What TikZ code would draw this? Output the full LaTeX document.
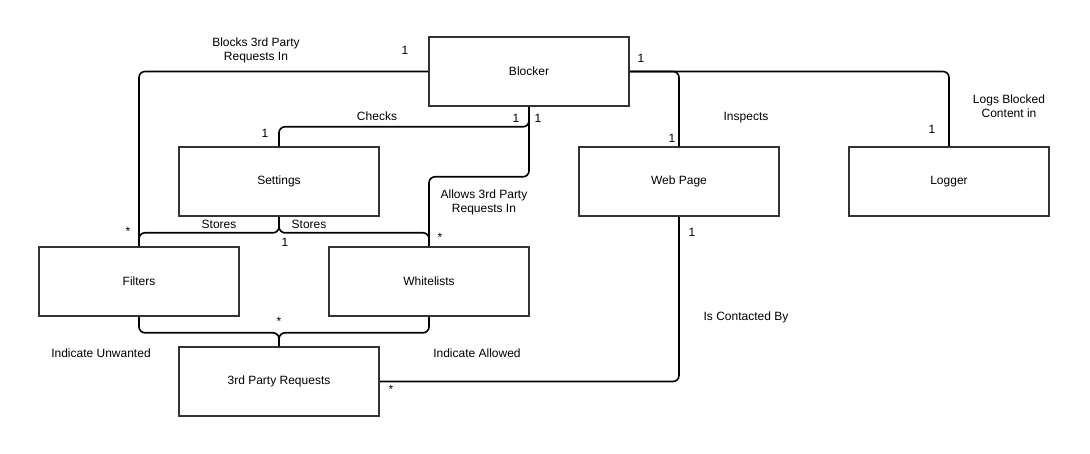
\documentclass[tikz,border=0pt]{standalone}
\usepackage{fontspec}
\setmainfont{Liberation Sans}
\usetikzlibrary{positioning}

\tikzset{
  box/.style={draw=black!80, line width=1.6pt, minimum width=200pt, minimum height=69pt, inner sep=0pt},
  link/.style={draw, line width=1.6pt, rounded corners=6pt},
  lbl/.style={inner sep=1pt, align=center}
}

\begin{document}
\begin{tikzpicture}[x=1pt, y=-1pt, font=\fontsize{12}{14}\selectfont]
\useasboundingbox (0,0) rectangle (1090,454);

% --- Boxes ---
\node[box] (blocker) at (529,71.5) {Blocker};
\node[box] (settings) at (279,181.5) {Settings};
\node[box] (webpage) at (679,181.5) {Web Page};
\node[box] (logger) at (949,181.5) {Logger};
\node[box] (filters) at (139,281.5) {Filters};
\node[box] (whitelists) at (429,281.5) {Whitelists};
\node[box] (requests) at (279,381.5) {3rd Party Requests};

% --- Connectors ---
% Blocker to the left and down
\draw[link] (blocker.west) -| (filters.north);
\draw[link] (blocker.south) -- ++(0,20) -| (settings.north);
\draw[link] (blocker.south) -- ++(0,70) -| (whitelists.north);

% Settings stores both lists
\draw[link] (settings.south) -- ++(0,16) -| (filters.north);
\draw[link] (settings.south) -- ++(0,16) -| (whitelists.north);

% Lists indicate requests
\draw[link] (filters.south) -- ++(0,16) -| (requests.north);
\draw[link] (whitelists.south) -- ++(0,16) -| (requests.north);

% Blocker to the right
\draw[link] (blocker.east) -| (webpage.north);
\draw[link] (blocker.east) -| (logger.north);
\draw[link] (webpage.south) |- (requests.east);

% --- Labels ---
\node[lbl] (lBlocks) at (256,50) {Blocks 3rd Party\\Requests In};
\node[lbl] (lChecks) at (377,116) {Checks};
\node[lbl] (lAllows) at (484,202) {Allows 3rd Party\\Requests In};
\node[lbl] (lStoresF) at (219,224) {Stores};
\node[lbl] (lStoresW) at (309,224) {Stores};
\node[lbl] (lUnwanted) at (101,353) {Indicate Unwanted};
\node[lbl] (lAllowed) at (477,353) {Indicate Allowed};
\node[lbl] (lInspects) at (746,118) {Inspects};
\node[lbl] (lLogs) at (1009,106) {Logs Blocked\\Content in};
\node[lbl] (lContacted) at (746,317) {Is Contacted By};

% --- Multiplicities ---
\node (m1) at (405,50) {1};
\node (m2) at (128,231) {*};
\node (m3) at (516,118) {1};
\node (m4) at (538,118) {1};
\node (m5) at (265,133) {1};
\node (m6) at (440,237) {*};
\node (m7) at (285,242) {1};
\node (m8) at (279,321) {*};
\node (m9) at (641,58) {1};
\node (m10) at (672,138) {1};
\node (m11) at (932,129) {1};
\node (m12) at (692,232) {1};
\node (m13) at (391,389) {*};

\end{tikzpicture}
\end{document}
